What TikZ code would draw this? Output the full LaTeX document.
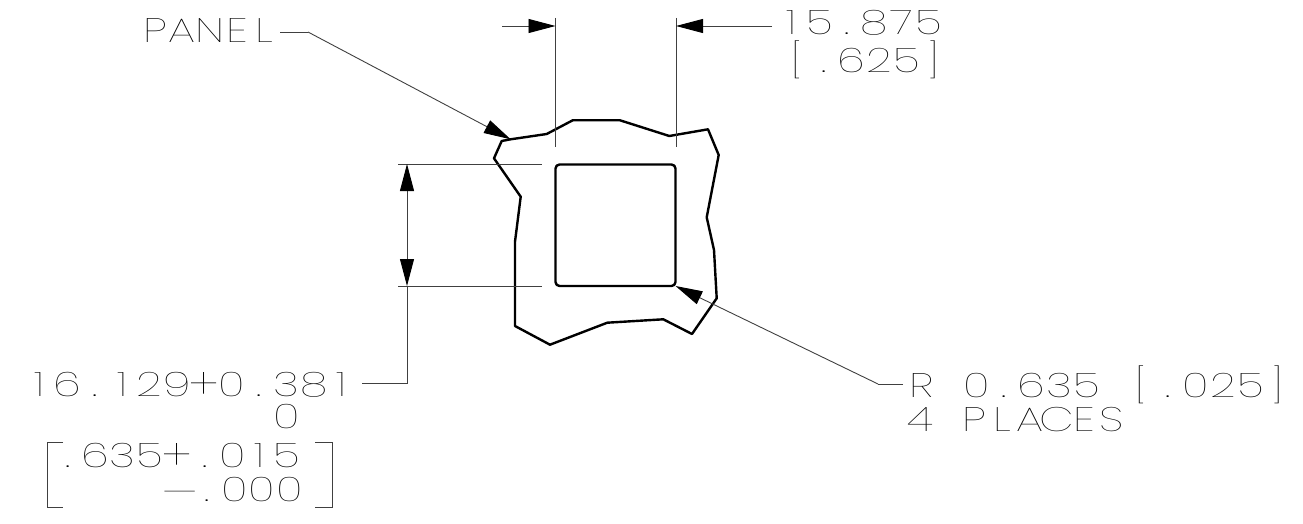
\documentclass[tikz,border=0pt]{standalone}
\usepackage{fontspec}
\newfontfamily\cadfont{Poppins Thin}
\usetikzlibrary{arrows.meta}
% fixed-pitch setting: every character takes one cell, as in the plotted lettering
\newcommand{\monotxt}[1]{\monostep#1\relax}
\def\monostep#1{\ifx#1\relax\else\makebox[27.4pt][c]{\scalebox{1.32}[1]{#1}}\expandafter\monostep\fi}
\newcommand{\cadplus}{\raisebox{-3.5pt}{\scalebox{1.1}[1.25]{+}}}
\newcommand{\cadminus}{\raisebox{-3pt}{\scalebox{1.35}[1]{–}}}
\tikzset{
  x=1pt,y=-1pt,
  cad/.style={font=\fontsize{34}{34}\cadfont,text=black,inner sep=0pt,anchor=base west},
  thinline/.style={draw=black!75,line width=0.9pt},
  heavy/.style={draw=black,line width=2.4pt,line join=round},
  tip/.style={-{Triangle[length=27pt,width=14pt,color=black]}},
}
\begin{document}
\begin{tikzpicture}
\useasboundingbox (0,0) rectangle (1303,524);
% coordinates
\coordinate (L1) at (555.5,18); \coordinate (L1e) at (555.5,147);
\coordinate (R1) at (676,18); \coordinate (R1e) at (676,147);
\coordinate (T1) at (398,164); \coordinate (T1e) at (542,164);
\coordinate (T2) at (398,286); \coordinate (T2e) at (542,286);
\coordinate (TA) at (502,26); \coordinate (TB) at (772,26);
\coordinate (VT) at (407,164); \coordinate (VM) at (407,225); \coordinate (VB) at (407,286); \coordinate (VE) at (407,383); \coordinate (VH) at (362,383);
\coordinate (PA) at (308,32); \coordinate (PB) at (280,32); \coordinate (PT) at (510.7,139.3);
\coordinate (RA) at (903,384); \coordinate (RB) at (878,384); \coordinate (RT) at (675.5,286);
% panel
\draw[heavy] (501.7,141)--(510.7,139.3)--(546.7,134)--(572.7,120.3)--(620,120.3)--(669.3,136)--(708,129.3)--(718.7,155)--(706.7,217.3)--(714,250)--(716.7,298.3)--(692,334)--(663.3,319.3)--(607.3,322.7)--(550,344.7)--(515,326)--(515,241.7)--(520.7,196.7)--(494,158.3)--cycle;
\draw[heavy,rounded corners=4pt] (555.5,164.5) rectangle (675.5,286);
% extension lines
\draw[thinline] (L1)--(L1e);
\draw[thinline] (R1)--(R1e);
\draw[thinline] (T1)--(T1e);
\draw[thinline] (T2)--(T2e);
% dims
\draw[thinline,tip] (TA)--(L1|-TA);
\draw[thinline,tip] (TB)--(R1|-TB);
\draw[thinline,tip] (VM)--(VT);
\draw[thinline,tip] (VM)--(VB);
\draw[thinline] (VB)--(VE)--(VH);
\draw[thinline,tip] (PA)--(PT);
\draw[thinline] (PA)--(PB);
\draw[thinline,tip] (RB)--(RT);
\draw[thinline] (RA)--(RB);
% text
\node[cad] (panel) at (141,43) {\monotxt{PANEL}};
\node[cad] (d1) at (778,35) {\monotxt{15.875}};
\node[cad] (d2) at (783,73) {\monotxt{[.625]}};
\node[cad] (r1) at (908,397) {\monotxt{R~0.635~[.025]}};
\node[cad] (r2) at (906,431) {\monotxt{4~PLACES}};
\node[cad] (v1) at (26,396) {\monotxt{16.129\cadplus0.381}};
\node[cad] (v2) at (273,428) {\monotxt{0}};
\node[cad] (v3) at (54,467) {\monotxt{.635\cadplus.015}};
\node[cad] (v4) at (166,501) {\monotxt{\cadminus.000}};
\draw[thinline] (63,442)--(47,442)--(47,507)--(63,507);
\draw[thinline] (315,442)--(332,442)--(332,507)--(315,507);
\end{tikzpicture}
\end{document}
